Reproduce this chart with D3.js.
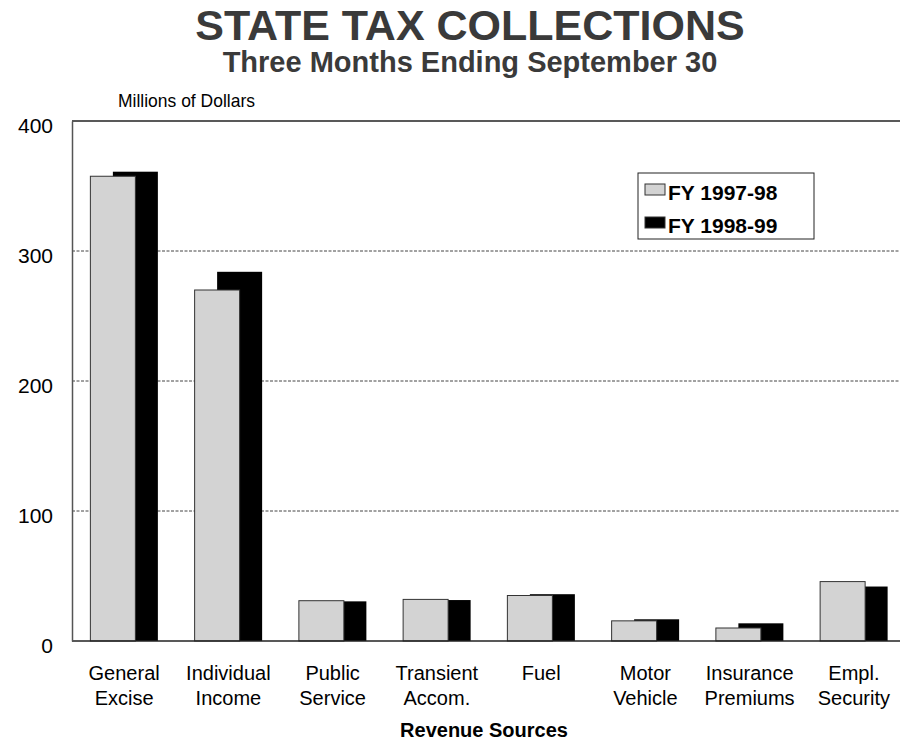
<!DOCTYPE html>
<html>
<head>
<meta charset="utf-8">
<script src="https://cdn.jsdelivr.net/npm/d3@7"></script>
<style>
  body { margin: 0; background: #fff; }
  svg { display: block; font-family: "Liberation Sans", Arial, sans-serif; }
</style>
</head>
<body>
<svg id="chart"></svg>
<script>
const width = 900;
const height = 750;

const categories = [
  ['General', 'Excise'],
  ['Individual', 'Income'],
  ['Public', 'Service'],
  ['Transient', 'Accom.'],
  ['Fuel'],
  ['Motor', 'Vehicle'],
  ['Insurance', 'Premiums'],
  ['Empl.', 'Security']
];
const fy9798 = [357.5, 270, 31, 32, 35, 15.5, 10, 45.7];
const fy9899 = [361, 284, 30.5, 31.5, 36, 16.7, 13.6, 41.9];
const seriesNames = ['FY 1997-98', 'FY 1998-99'];
const yTicks = [0, 100, 200, 300, 400];

const plotLeft = 72, plotTop = 121, plotBottom = 641, plotRight = 906;

const svg = d3.select('#chart').attr('width', width).attr('height', height);

const keys = categories.map(c => c.join(' '));
const x = d3.scaleBand().domain(keys).range([plotLeft, plotRight]);
const y = d3.scaleLinear().domain([0, 400]).range([plotBottom, plotTop]);

// titles
svg.append('text')
  .attr('x', 470).attr('y', 40)
  .attr('text-anchor', 'middle')
  .style('font-size', '43px').style('font-weight', 'bold').attr('fill', '#3a3a3a')
  .text('STATE TAX COLLECTIONS');
svg.append('text')
  .attr('x', 470).attr('y', 72)
  .attr('text-anchor', 'middle')
  .style('font-size', '29px').style('font-weight', 'bold').attr('fill', '#3a3a3a')
  .text('Three Months Ending September 30');
svg.append('text')
  .attr('x', 118).attr('y', 107)
  .attr('textLength', 137).attr('lengthAdjust', 'spacingAndGlyphs')
  .style('font-size', '19px').attr('fill', '#000')
  .text('Millions of Dollars');

// gridlines
svg.append('g').selectAll('line')
  .data(yTicks.filter(d => d > 0 && d < 400))
  .enter().append('line')
  .attr('x1', plotLeft).attr('x2', width)
  .attr('y1', d => y(d)).attr('y2', d => y(d))
  .attr('stroke', '#444').attr('stroke-width', 1)
  .attr('stroke-dasharray', '3,1.5');

// top border
svg.append('line')
  .attr('x1', plotLeft).attr('x2', width)
  .attr('y1', y(400)).attr('y2', y(400))
  .attr('stroke', '#222').attr('stroke-width', 1.5);

// bars: 1998-99 behind, 1997-98 in front
const bw = 45, off = 22.5;
const pad = (x.bandwidth() - (bw + off)) / 2;

svg.append('g').selectAll('rect')
  .data(fy9899)
  .enter().append('rect')
  .attr('x', (d, i) => x(keys[i]) + pad + off)
  .attr('y', d => y(d))
  .attr('width', bw)
  .attr('height', d => y(0) - y(d))
  .attr('fill', '#000');

svg.append('g').selectAll('rect')
  .data(fy9798)
  .enter().append('rect')
  .attr('x', (d, i) => x(keys[i]) + pad)
  .attr('y', d => y(d))
  .attr('width', bw)
  .attr('height', d => y(0) - y(d))
  .attr('fill', '#d3d3d3')
  .attr('stroke', '#333').attr('stroke-width', 1);

svg.append('line')
  .attr('x1', plotLeft).attr('x2', width)
  .attr('y1', y(0)).attr('y2', y(0))
  .attr('stroke', '#222').attr('stroke-width', 1.5);

// y axis
const yAxis = svg.append('g')
  .attr('transform', `translate(${plotLeft},0)`)
  .call(d3.axisLeft(y).tickValues(yTicks).tickSize(0).tickPadding(19));
yAxis.select('.domain').attr('stroke', '#555').attr('stroke-width', 1.5);
yAxis.selectAll('text')
  .style('font-size', '21px')
  .style('font-family', '"Liberation Sans", Arial, sans-serif')
  .attr('fill', '#000')
  .attr('dy', '0.55em');

// category labels
const catG = svg.append('g').selectAll('text')
  .data(categories)
  .enter().append('text')
  .attr('text-anchor', 'middle')
  .attr('x', (d, i) => x(keys[i]) + x.bandwidth() / 2)
  .attr('y', 680)
  .style('font-size', '20px').attr('fill', '#000');
catG.selectAll('tspan')
  .data(d => d)
  .enter().append('tspan')
  .attr('x', function () { return d3.select(this.parentNode).attr('x'); })
  .attr('dy', (d, i) => i === 0 ? 0 : 25)
  .text(d => d);

svg.append('text')
  .attr('x', 484).attr('y', 737)
  .attr('text-anchor', 'middle')
  .style('font-size', '20px').style('font-weight', 'bold').attr('fill', '#000')
  .text('Revenue Sources');

// legend
const legend = svg.append('g');
legend.append('rect')
  .attr('x', 638).attr('y', 173).attr('width', 176).attr('height', 66)
  .attr('fill', '#fff').attr('stroke', '#222').attr('stroke-width', 1);
const legendFills = ['#d3d3d3', '#000'];
seriesNames.forEach((name, i) => {
  legend.append('rect')
    .attr('x', 645).attr('y', 184 + i * 33).attr('width', 20).attr('height', 11)
    .attr('fill', legendFills[i]).attr('stroke', '#333').attr('stroke-width', 1);
  legend.append('text')
    .attr('x', 668).attr('y', 200 + i * 33)
    .style('font-size', '21px').style('font-weight', 'bold').attr('fill', '#000')
    .text(name);
});
</script>
</body>
</html>
